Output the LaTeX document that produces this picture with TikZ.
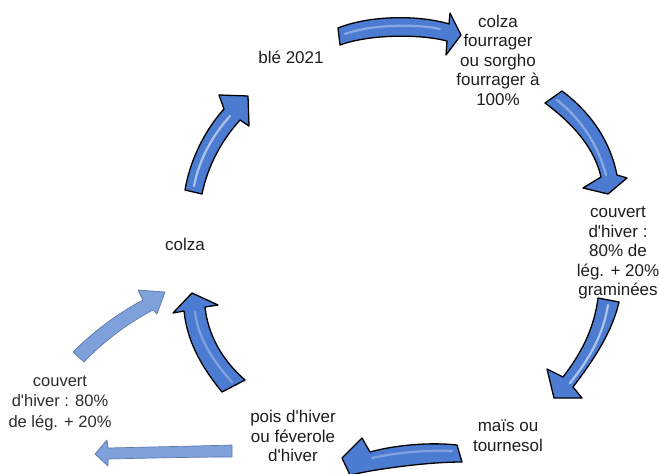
\documentclass[tikz,border=0pt]{standalone}
\usepackage{fontspec}
\setmainfont{Liberation Sans}
\definecolor{arrowblue}{RGB}{76,124,210}
\definecolor{lightblue}{RGB}{126,161,220}
\definecolor{txt}{RGB}{30,30,30}
\newcommand{\ap}{\textquotesingle}
\begin{document}
\begin{tikzpicture}[x=1pt,y=-1pt,
  lbl/.style={align=center,text=txt,font=\fontsize{17}{19.5}\selectfont,inner sep=0pt},
  lbl2/.style={lbl,text={rgb,255:red,45;green,45;blue,45},font=\fontsize{16.5}{20.5}\selectfont},
  bigarrow/.style={draw=black,line width=1.3pt,line join=round,fill=arrowblue},
  smallarrow/.style={draw={rgb,255:red,95;green,120;blue,170},line width=0.7pt,line join=round,fill=lightblue},
  shine/.style={white,opacity=0.55,line width=2.2pt,line cap=round}
]
\fill[white] (0,0) rectangle (659,474);
\useasboundingbox (0,0) rectangle (659,474);

% labels
\node[lbl] (ble) at (291,57) {blé 2021};
\node[lbl] (colzaf) at (498,60) {colza\\fourrager\\ou sorgho\\fourrager à\\100\%};
\node[lbl] (couv) at (618,253) {couvert\\d\ap hiver :\\80\% de\\lég. + 20\%\\graminées};
\node[lbl] (mais) at (508,436) {maïs ou\\tournesol};
\node[lbl] (pois) at (293,436) {pois d\ap hiver\\ou féverole\\d\ap hiver};
\node[lbl] (colza) at (185,244) {colza};
\node[lbl2] (couv2) at (60,403) {couvert\\d\ap hiver : 80\%\\de lég. + 20\%};

% arrow 1: blé -> colza fourrager
\draw[bigarrow] (338,28) .. controls (370,15) and (420,15) .. (449,24) -- (450,13) -- (461,35)
  -- (446,55) -- (447,41) .. controls (420,34) and (370,34) .. (340,45) -- cycle;
\draw[shine,opacity=0.35] (345,34) .. controls (372,24) and (418,24) .. (440,29);

% arrow 2: colza fourrager -> couvert
\draw[bigarrow] (545,103) .. controls (575,125) and (595,150) .. (601,177) -- (583,188) -- (608,194)
  -- (627,178) -- (617,175) .. controls (610,140) and (590,112) .. (562,91) -- cycle;
\draw[shine,opacity=0.35] (557,100) .. controls (582,120) and (598,145) .. (606,175);

% arrow 3: couvert -> maïs
\draw[bigarrow] (598,298) .. controls (594,330) and (580,355) .. (563,377) -- (547,369) -- (554,398)
  -- (582,398) -- (573,387) .. controls (592,362) and (612,333) .. (619,302) -- cycle;
\draw[shine] (608,305) .. controls (603,335) and (590,358) .. (570,383);

% arrow 4: maïs -> pois
\draw[bigarrow] (457,445) .. controls (430,442) and (395,445) .. (370,452) -- (362,438) -- (342,458)
  -- (350,475) -- (370,471) .. controls (400,466) and (435,462) .. (462,462) -- cycle;
\draw[shine,opacity=0.3] (452,451) .. controls (430,450) and (398,452) .. (372,458);

% arrow 5: pois -> colza
\draw[bigarrow] (222,392) .. controls (200,365) and (187,340) .. (184,311) -- (173,313) -- (192,293)
  -- (218,305) -- (205,307) .. controls (208,335) and (222,360) .. (245,380) -- cycle;
\draw[shine,opacity=0.3] (232,382) .. controls (212,360) and (198,337) .. (195,312);

% arrow 6: colza -> blé
\draw[bigarrow] (185,190) .. controls (190,160) and (205,130) .. (224,109) -- (219,95) -- (248,96)
  -- (249,126) -- (240,120) .. controls (222,140) and (208,165) .. (202,194) -- cycle;
\draw[shine] (194,186) .. controls (199,160) and (212,136) .. (230,116);

% light arrows (left)
\draw[smallarrow] (73,352) .. controls (95,330) and (120,312) .. (143,300) -- (138,290) -- (165,292)
  -- (157,314) -- (153,310) .. controls (130,322) and (105,340) .. (84,362) -- cycle;
\draw[smallarrow] (232,445) .. controls (200,446) and (150,447) .. (108,448) -- (107,440) -- (95,454)
  -- (108,466) -- (108,459) .. controls (150,458) and (200,457) .. (232,457) -- cycle;
\end{tikzpicture}
\end{document}
